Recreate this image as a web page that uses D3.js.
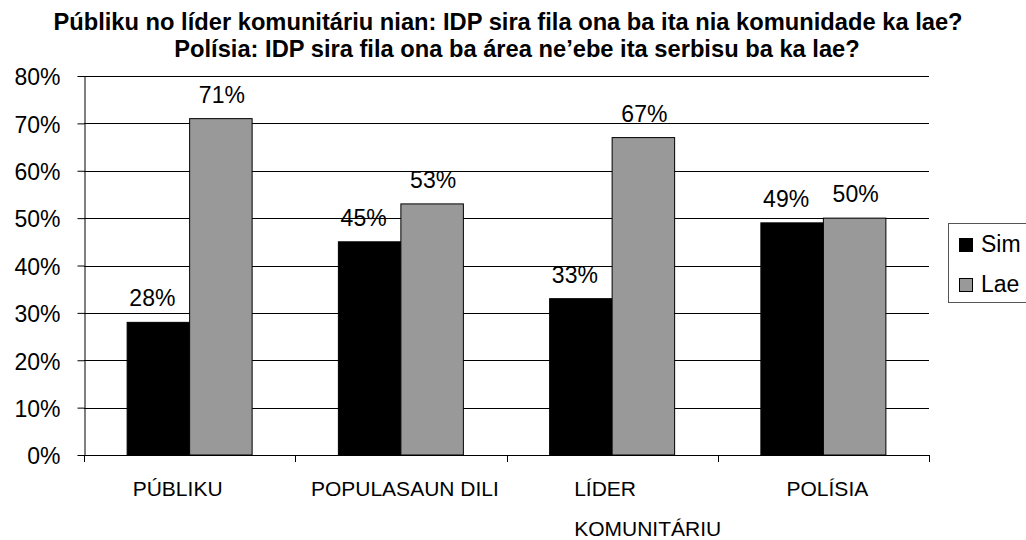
<!DOCTYPE html>
<html lang="en">
<head>
<meta charset="utf-8">
<title>IDP sira fila</title>
<script src="https://cdn.jsdelivr.net/npm/d3@7"></script>
<style>
  body { margin: 0; background: #fff; }
  text { font-family: "Liberation Sans", Arial, sans-serif; fill: #000; }
  .title { font-size: 23.7px; font-weight: bold; }
  .axis text { font-size: 23px; }
  .cat { font-size: 21px; }
  .val { font-size: 23px; }
  .legend text { font-size: 23px; }
</style>
</head>
<body>
<script>
// data
var categories = ["PÚBLIKU", "POPULASAUN DILI", "LÍDER KOMUNITÁRIU", "POLÍSIA"];
var series = ["Sim", "Lae"];
var simValues = [0.28, 0.45, 0.33, 0.49];
var laeValues = [0.71, 0.53, 0.67, 0.50];
var yTicks = [0, 0.1, 0.2, 0.3, 0.4, 0.5, 0.6, 0.7, 0.8];
var titleLines = [
  "Públiku no líder komunitáriu nian: IDP sira fila ona ba ita nia komunidade ka lae?",
  "Polísia: IDP sira fila ona ba área ne’ebe ita serbisu ba ka lae?"
];

var colors = { "Sim": "#000000", "Lae": "#999999" };

var w = 1026, h = 540;
var plotLeft = 84, plotRight = 929, plotTop = 76, plotBottom = 455;

var svg = d3.select("body").append("svg")
  .attr("width", w)
  .attr("height", h);

// title
svg.selectAll("text.title")
  .data(titleLines)
  .enter()
  .append("text")
  .attr("class", "title")
  .attr("x", function(d, i) { return i === 0 ? 508 : 517; })
  .attr("y", function(d, i) { return 30 + i * 27; })
  .attr("text-anchor", "middle")
  .text(function(d) { return d; });

var x0 = d3.scaleBand()
  .domain(categories)
  .range([plotLeft, plotRight]);

var x1 = d3.scaleBand()
  .domain(series)
  .range([0, x0.bandwidth()])
  .paddingOuter(0.69);

var y = d3.scaleLinear()
  .domain([0, 0.8])
  .range([plotBottom, plotTop]);

// gridlines
svg.append("g")
  .selectAll("line")
  .data(yTicks)
  .enter()
  .append("line")
  .attr("x1", plotLeft)
  .attr("x2", plotRight)
  .attr("y1", function(d) { return Math.round(y(d)) + 0.5; })
  .attr("y2", function(d) { return Math.round(y(d)) + 0.5; })
  .attr("stroke", "#000")
  .attr("stroke-width", 1);

// y axis
var yAxis = d3.axisLeft(y)
  .tickValues(yTicks)
  .tickFormat(d3.format(".0%"))
  .tickSize(7)
  .tickSizeOuter(0)
  .tickPadding(17);

svg.append("g")
  .attr("class", "axis")
  .attr("transform", "translate(" + (plotLeft + 0.5) + ",0)")
  .call(yAxis)
  .call(function(g) {
    g.attr("font-family", null).attr("font-size", null);
    g.selectAll("line").attr("stroke", "#000");
    g.select(".domain").attr("stroke", "#000");
    g.selectAll("text").attr("dy", "0.38em");
  });

// bars
var rows = categories.map(function(c, i) {
  return { cat: c, values: [
    { key: "Sim", value: simValues[i] },
    { key: "Lae", value: laeValues[i] }
  ] };
});

var groups = svg.append("g")
  .selectAll("g")
  .data(rows)
  .enter()
  .append("g")
  .attr("transform", function(d) { return "translate(" + x0(d.cat) + ",0)"; });

groups.selectAll("rect")
  .data(function(d) { return d.values; })
  .enter()
  .append("rect")
  .attr("x", function(d) { return x1(d.key); })
  .attr("y", function(d) { return y(d.value); })
  .attr("width", x1.bandwidth())
  .attr("height", function(d) { return plotBottom - y(d.value); })
  .attr("fill", function(d) { return colors[d.key]; })
  .attr("stroke", "#000")
  .attr("stroke-width", 1);

groups.selectAll("text")
  .data(function(d) { return d.values; })
  .enter()
  .append("text")
  .attr("class", "val")
  .attr("x", function(d) { return x1(d.key) + x1.bandwidth() / 2 + (d.key === "Sim" ? -6 : 1); })
  .attr("y", function(d) { return y(d.value) - 16; })
  .attr("text-anchor", "middle")
  .text(function(d) { return d3.format(".0%")(d.value); });

// x axis line and ticks at category boundaries
var bounds = categories.map(function(c) { return x0(c); }).concat([plotRight]);

svg.append("line")
  .attr("x1", plotLeft)
  .attr("x2", plotRight)
  .attr("y1", plotBottom + 0.5)
  .attr("y2", plotBottom + 0.5)
  .attr("stroke", "#000");

svg.append("g")
  .selectAll("line")
  .data(bounds)
  .enter()
  .append("line")
  .attr("x1", function(d) { return Math.round(d) + 0.5; })
  .attr("x2", function(d) { return Math.round(d) + 0.5; })
  .attr("y1", plotBottom)
  .attr("y2", plotBottom + 7)
  .attr("stroke", "#000");

// category labels (LÍDER KOMUNITÁRIU wraps onto two lines)
var catLabels = svg.append("g")
  .selectAll("text")
  .data(categories)
  .enter()
  .append("text")
  .attr("class", "cat")
  .attr("y", 496);

catLabels.each(function(d, i) {
  var t = d3.select(this);
  var cx = x0(d) + x0.bandwidth() / 2;
  if (d === "LÍDER KOMUNITÁRIU") {
    var parts = d.split(" ");
    t.attr("text-anchor", "start");
    t.selectAll("tspan")
      .data(parts)
      .enter()
      .append("tspan")
      .attr("x", cx - 38)
      .attr("dy", function(p, j) { return j === 0 ? 0 : 40; })
      .text(function(p) { return p; });
  } else {
    t.attr("x", cx + (i === 0 ? -12 : 4)).attr("text-anchor", "middle").text(d);
  }
});

// legend
var legend = svg.append("g").attr("class", "legend");

legend.append("rect")
  .attr("x", 948.5)
  .attr("y", 223.5)
  .attr("width", 90)
  .attr("height", 79)
  .attr("fill", "#fff")
  .attr("stroke", "#555");

var items = legend.selectAll("g")
  .data(series)
  .enter()
  .append("g")
  .attr("transform", function(d, i) { return "translate(959," + (238 + i * 40) + ")"; });

items.append("rect")
  .attr("x", 0.5)
  .attr("y", 0.5)
  .attr("width", 13)
  .attr("height", 13)
  .attr("fill", function(d) { return colors[d]; })
  .attr("stroke", "#000");

items.append("text")
  .attr("x", 22)
  .attr("y", 14)
  .text(function(d) { return d; });
</script>
</body>
</html>
